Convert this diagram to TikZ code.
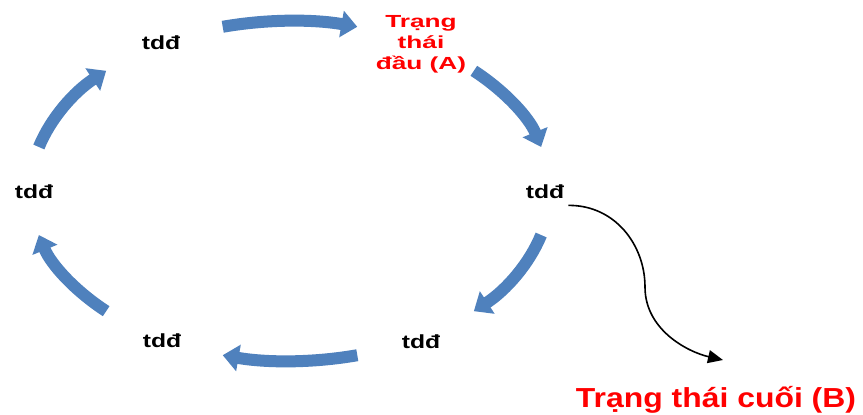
\documentclass[tikz,border=0pt]{standalone}
\usepackage{fontspec}
\usetikzlibrary{arrows.meta}
\newfontfamily\tddfont{Liberation Sans}[UprightFont=* Bold, FakeStretch=1.3]
\newfontfamily\topfont{Liberation Sans}[UprightFont=* Bold, FakeStretch=1.5]
\newfontfamily\bigfont{Liberation Sans}[UprightFont=* Bold, FakeStretch=1.16]
\definecolor{arrowblue}{RGB}{79,129,189}
\definecolor{txtred}{RGB}{255,0,0}
\tikzset{
  tdd/.style={inner sep=0pt, anchor=base, font=\tddfont\fontsize{19}{22}\selectfont},
  startlbl/.style={inner sep=0pt, align=center, text=txtred, font=\topfont\fontsize{17.5}{21}\selectfont},
  endlbl/.style={inner sep=0pt, anchor=base, text=txtred, font=\bigfont\fontsize{27.5}{32}\selectfont},
  cyc/.style={draw=arrowblue, line width=12pt, -{Triangle[length=16pt,width=26pt]}},
  outarrow/.style={draw=black, line width=1.6pt, -{Triangle[length=15pt,width=13pt]}}
}
\begin{document}
\begin{tikzpicture}[x=1pt,y=-1pt]
\useasboundingbox[fill=white] (0,0) rectangle (863,415);
% labels
\node[tdd] (tl) at (161,49) {tdđ};
\node[startlbl] (A) at (421,44) {Trạng\\thái\\đầu (A)};
\node[tdd] (rt) at (545,198) {tdđ};
\node[tdd] (br) at (421,348) {tdđ};
\node[tdd] (bl) at (162,347) {tdđ};
\node[tdd] (lt) at (34,198) {tdđ};
\node[endlbl] (B) at (716,407) {Trạng thái cuối (B)};
% arrow start points on the cycle ellipse
\foreach \n/\a in {c1/-105,c2/-45,c3/15,c4/75,c5/135,c6/195}{
  \coordinate (\n) at ({290+260*cos(\a)},{191+170*sin(\a)});
}
\draw[cyc] (c1) arc[start angle=-105, end angle=-75, x radius=260, y radius=170];
\draw[cyc] (c2) arc[start angle=-45, end angle=-15, x radius=260, y radius=170];
\draw[cyc] (c3) arc[start angle=15, end angle=45, x radius=260, y radius=170];
\draw[cyc] (c4) arc[start angle=75, end angle=105, x radius=260, y radius=170];
\draw[cyc] (c5) arc[start angle=135, end angle=165, x radius=260, y radius=170];
\draw[cyc] (c6) arc[start angle=195, end angle=225, x radius=260, y radius=170];
% exit arrow
\coordinate (Bin) at (723,360);
\draw[outarrow] ([xshift=4pt,yshift=-7pt]rt.south east) .. controls (615,205) and (645,245) .. (645,287) .. controls (645,330) and (688,352) .. (Bin);
\end{tikzpicture}
\end{document}
